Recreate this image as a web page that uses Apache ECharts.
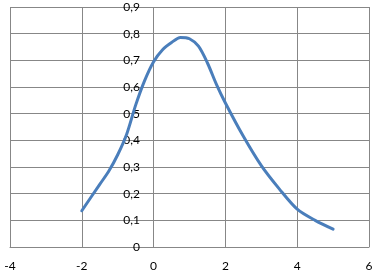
<!DOCTYPE html>
<html>
<head>
<meta charset="utf-8">
<script src="https://cdn.jsdelivr.net/npm/echarts@6/dist/echarts.min.js"></script>
<style>
html,body{margin:0;padding:0;background:#fff;}
#chart{width:382px;height:273px;}
</style>
</head>
<body>
<div id="chart"></div>
<script>
const xValues = [-2, -1.5, -1.25, -1, -0.75, -0.5, -0.25, 0, 0.25, 0.5, 0.75, 1, 1.25, 1.5, 1.75, 2, 2.5, 3, 3.5, 4, 4.5, 5];
const yValues = [0.136, 0.235, 0.284, 0.346, 0.423, 0.532, 0.624, 0.695, 0.74, 0.767, 0.786, 0.781, 0.753, 0.69, 0.61, 0.54, 0.415, 0.305, 0.218, 0.142, 0.10, 0.067];
const xTicks = [-4, -2, 0, 2, 4, 6];
const yTicks = [0, 0.1, 0.2, 0.3, 0.4, 0.5, 0.6, 0.7, 0.8, 0.9];

const gridColor = '#878787';
const fontFamily = 'Lato, "Open Sans", sans-serif';

const chart = echarts.init(document.getElementById('chart'), null, {renderer: 'canvas'});
chart.setOption({
  animation: false,
  backgroundColor: '#ffffff',
  grid: {left: 10, right: 13, top: 7, bottom: 26, containLabel: false, outerBoundsMode: 'none'},
  xAxis: {
    type: 'value',
    min: xTicks[0],
    max: xTicks[xTicks.length - 1],
    interval: 2,
    axisLine: {show: true, onZero: false, lineStyle: {color: gridColor, width: 1}},
    axisTick: {show: false},
    axisLabel: {color: '#000', fontSize: 12, fontFamily: fontFamily, margin: 13,
      formatter: v => String(v)},
    splitLine: {show: true, lineStyle: {color: gridColor, width: 1}}
  },
  yAxis: {
    type: 'value',
    position: 'left',
    offset: -143,
    min: yTicks[0],
    max: yTicks[yTicks.length - 1],
    interval: 0.1,
    axisLine: {show: false, onZero: false},
    axisTick: {show: false},
    axisLabel: {color: '#000', fontSize: 12, fontFamily: fontFamily, margin: 13,
      formatter: v => {
        const r = Math.round(v * 10) / 10;
        return r === 0 ? '0' : r.toFixed(1).replace('.', ',');
      }},
    splitLine: {show: true, lineStyle: {color: gridColor, width: 1}}
  },
  series: [{
    type: 'line',
    data: xValues.map((x, i) => [x, yValues[i]]),
    smooth: 0.3,
    showSymbol: false,
    lineStyle: {color: '#4a7ebb', width: 3, cap: 'round', join: 'round'},
    itemStyle: {color: '#4a7ebb'}
  }]
});
</script>
</body>
</html>
